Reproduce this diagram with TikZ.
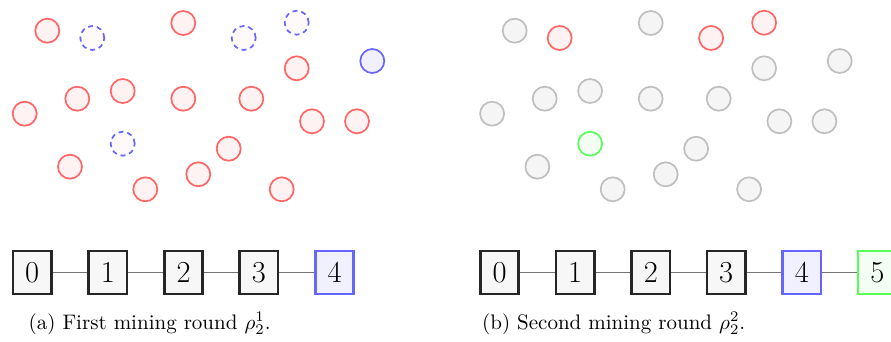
\documentclass[tikz,border=0pt]{standalone}
\usepackage{graphicx}
\begin{document}
\begin{tikzpicture}[x=1pt,y=-1pt,
  peer/.style={circle,inner sep=0pt,minimum size=24pt,line width=1.7pt},
  redp/.style={peer,draw=red!60,fill=red!5},
  bluep/.style={peer,draw=blue!60,fill=blue!6},
  dashp/.style={peer,draw=blue!60,fill=red!2,dash pattern=on 5pt off 4pt},
  grayp/.style={peer,draw=black!25,fill=black!4},
  greenp/.style={peer,draw=green!65,fill=green!5},
  blk/.style={draw=black!85,fill=black!3,line width=2.6pt,minimum width=38.5pt,minimum height=43pt,inner sep=0pt,font=\fontsize{30.5}{36}\selectfont},
  blkb/.style={blk,draw=blue!60,fill=blue!6},
  blkg/.style={blk,draw=green!65,fill=green!5},
  link/.style={draw=black!55,line width=1.2pt},
  captext/.style={anchor=base west,inner sep=0pt}]
\useasboundingbox (0,0) rectangle (891,342);
\clip (0,0) rectangle (891,342);
% left panel
\node[redp]  (a1)  at (47.3,30.7) {};
\node[dashp] (a2)  at (92.3,38) {};
\node[redp]  (a3)  at (183.3,23) {};
\node[dashp] (a4)  at (243.7,38) {};
\node[dashp] (a5)  at (296.7,22.7) {};
\node[bluep] (a6)  at (372.3,61) {};
\node[redp]  (a7)  at (296.7,68.3) {};
\node[redp]  (a8)  at (77.3,98.7) {};
\node[redp]  (a9)  at (122.7,91) {};
\node[redp]  (a10) at (183.3,98.7) {};
\node[redp]  (a11) at (251.3,98.7) {};
\node[redp]  (a12) at (24.7,113.7) {};
\node[redp]  (a13) at (312,121.3) {};
\node[redp]  (a14) at (357,121.3) {};
\node[dashp] (a15) at (122.7,143.7) {};
\node[redp]  (a16) at (228.7,148.7) {};
\node[redp]  (a17) at (70,166.7) {};
\node[redp]  (a18) at (198.3,174.3) {};
\node[redp]  (a19) at (145.3,189.3) {};
\node[redp]  (a20) at (281.7,189.3) {};
% right panel
\begin{scope}[xshift=467.4pt]
\node[grayp]  (b1)  at (47.3,30.7) {};
\node[redp]   (b2)  at (92.3,38) {};
\node[grayp]  (b3)  at (183.3,23) {};
\node[redp]   (b4)  at (243.7,38) {};
\node[redp]   (b5)  at (296.7,22.7) {};
\node[grayp]  (b6)  at (372.3,61) {};
\node[grayp]  (b7)  at (296.7,68.3) {};
\node[grayp]  (b8)  at (77.3,98.7) {};
\node[grayp]  (b9)  at (122.7,91) {};
\node[grayp]  (b10) at (183.3,98.7) {};
\node[grayp]  (b11) at (251.3,98.7) {};
\node[grayp]  (b12) at (24.7,113.7) {};
\node[grayp]  (b13) at (312,121.3) {};
\node[grayp]  (b14) at (357,121.3) {};
\node[greenp] (b15) at (122.7,143.7) {};
\node[grayp]  (b16) at (228.7,148.7) {};
\node[grayp]  (b17) at (70,166.7) {};
\node[grayp]  (b18) at (198.3,174.3) {};
\node[grayp]  (b19) at (145.3,189.3) {};
\node[grayp]  (b20) at (281.7,189.3) {};
\end{scope}
% chains
\node[blk]  (l0) at (32.2,272.3) {0};
\node[blk]  (l1) at (107.8,272.3) {1};
\node[blk]  (l2) at (183.5,272.3) {2};
\node[blk]  (l3) at (258.8,272.3) {3};
\node[blkb] (l4) at (334.5,272.3) {4};
\draw[link] (l0) -- (l1); \draw[link] (l1) -- (l2); \draw[link] (l2) -- (l3); \draw[link] (l3) -- (l4);
\node[blk]  (r0) at (499.5,272.3) {0};
\node[blk]  (r1) at (575.1,272.3) {1};
\node[blk]  (r2) at (650.8,272.3) {2};
\node[blk]  (r3) at (726.1,272.3) {3};
\node[blkb] (r4) at (801.8,272.3) {4};
\node[blkg] (r5) at (877.4,272.3) {5};
\draw[link] (r0) -- (r1); \draw[link] (r1) -- (r2); \draw[link] (r2) -- (r3); \draw[link] (r3) -- (r4); \draw[link] (r4) -- (r5);
\node[captext] (ca) at (28.5,329) {\scalebox{2.1}{(a) First mining round $\rho_2^1$.}};
\node[captext] (cb) at (482,329) {\scalebox{2.1}{(b) Second mining round $\rho_2^2$.}};
\end{tikzpicture}
\end{document}
